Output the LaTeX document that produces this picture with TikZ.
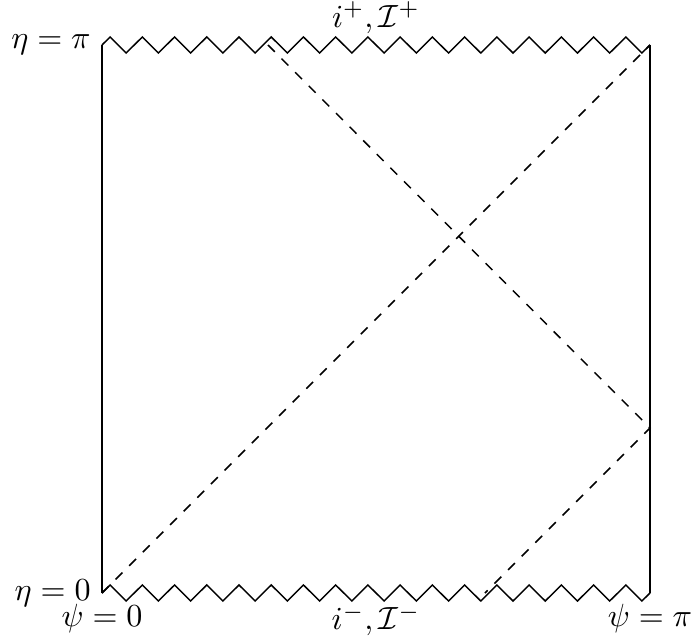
\documentclass[tikz,border=0pt]{standalone}
\begin{document}
\begin{tikzpicture}[x=0.3115pt,y=-0.3115pt,
  wall/.style={line width=0.45pt},
  ray/.style={dashed,line width=0.45pt},
  lab/.style={font=\fontsize{10}{12}\selectfont}]
\useasboundingbox (0,0) rectangle (691,638);
\coordinate (TL) at (102,45);
\coordinate (TR) at (650,45);
\coordinate (BL) at (102,593);
\coordinate (BR) at (650,593);
\coordinate (T1) at (268,45);
\coordinate (R1) at (650,428);
\coordinate (B1) at (485,593);
\coordinate (TM) at (376,45);
\coordinate (BM) at (376,593);
% walls
\draw[wall] (TL) -- (BL);
\draw[wall] (TR) -- (BR);
% singular zigzags
\draw[wall] (TL) \foreach \k in {0,...,16} { -- ++(8.059,-8) -- ++(16.118,16) -- ++(8.059,-8) };
\draw[wall] (BL) \foreach \k in {0,...,16} { -- ++(8.059,-8) -- ++(16.118,16) -- ++(8.059,-8) };
% null rays
\draw[ray] (BL) -- (TR);
\draw[ray] (T1) -- (R1) -- (B1);
% labels
\node[lab,left]  (etapi) at (TL) {$\eta=\pi$};
\node[lab,left]  (eta0)  at (BL) {$\eta=0$};
\node[lab,below] (psi0)  at (BL) {$\psi=0$};
\node[lab,below] (psipi) at (BR) {$\psi=\pi$};
\node[lab,above] (ip)    at (TM) {$i^+,\mathcal{I}^+$};
\node[lab,below] (im)    at (BM) {$i^-,\mathcal{I}^-$};
\end{tikzpicture}
\end{document}
